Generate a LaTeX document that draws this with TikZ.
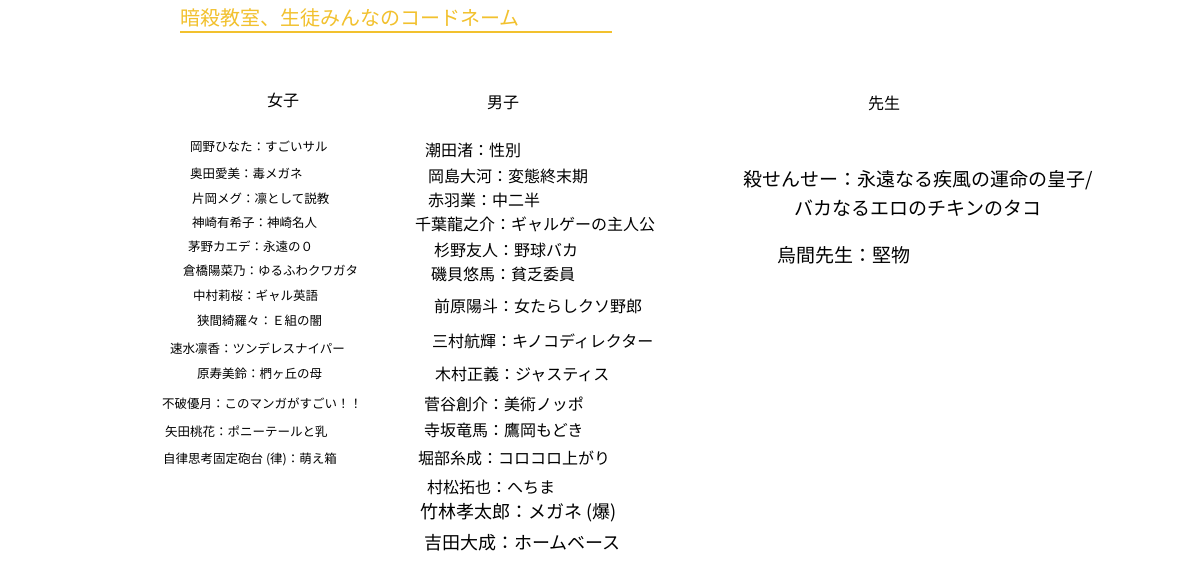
\documentclass[tikz,border=0pt]{standalone}
\usepackage{fontspec}
\newfontfamily\cjk{Noto Sans CJK JP}
\definecolor{titleyel}{HTML}{F2C12E}
\begin{document}
\begin{tikzpicture}[x=1pt,y=-1pt,
  girl/.style={anchor=west,inner sep=0,font=\cjk\fontsize{12.5}{14}\selectfont},
  boy/.style={anchor=west,inner sep=0,font=\cjk\fontsize{16}{18}\selectfont},
  head/.style={inner sep=0,font=\cjk\fontsize{16}{18}\selectfont},
  teach/.style={inner sep=0,font=\cjk\fontsize{19}{22}\selectfont}]
\useasboundingbox[fill=white] (0,0) rectangle (1200,583);
\node[inner sep=0,anchor=west,text=titleyel,font=\cjk\fontsize{20}{22}\selectfont] (title) at (180,18) {暗殺教室、生徒みんなのコードネーム};
\draw[titleyel,line width=1.2] (180,32) -- (612,32);
\node[head] (hg) at (283,100) {女子};
\node[head] (hb) at (503,103) {男子};
\node[head] (ht) at (884,103) {先生};
\node[girl] (g1) at (190,147) {岡野ひなた：すごいサル};
\node[girl] (g2) at (190,174) {奥田愛美：毒メガネ};
\node[girl] (g3) at (192,199) {片岡メグ：凛として説教};
\node[girl] (g4) at (192,223) {神崎有希子：神崎名人};
\node[girl] (g5) at (188,247) {茅野カエデ：永遠の０};
\node[girl] (g6) at (183,271) {倉橋陽菜乃：ゆるふわクワガタ};
\node[girl] (g7) at (193,296) {中村莉桜：ギャル英語};
\node[girl] (g8) at (197,321) {狭間綺羅々：Ｅ組の闇};
\node[girl] (g9) at (170,349) {速水凛香：ツンデレスナイパー};
\node[girl] (g10) at (197,374) {原寿美鈴：椚ヶ丘の母};
\node[girl] (g11) at (162,404) {不破優月：このマンガがすごい！！};
\node[girl] (g12) at (165,432) {矢田桃花：ポニーテールと乳};
\node[girl] (g13) at (163,459) {自律思考固定砲台 (律)：萌え箱};
\node[boy] (b1) at (425,150) {潮田渚：性別};
\node[boy] (b2) at (428,176) {岡島大河：変態終末期};
\node[boy] (b3) at (428,200) {赤羽業：中二半};
\node[boy] (b4) at (415,224) {千葉龍之介：ギャルゲーの主人公};
\node[boy] (b5) at (434,250) {杉野友人：野球バカ};
\node[boy] (b6) at (431,274) {磯貝悠馬：貧乏委員};
\node[boy] (b7) at (434,306) {前原陽斗：女たらしクソ野郎};
\node[boy] (b8) at (432,341) {三村航輝：キノコディレクター};
\node[boy] (b9) at (435,374) {木村正義：ジャスティス};
\node[boy] (b10) at (424,404) {菅谷創介：美術ノッポ};
\node[boy] (b11) at (424,430) {寺坂竜馬：鷹岡もどき};
\node[boy] (b12) at (418,458) {堀部糸成：コロコロ上がり};
\node[boy] (b13) at (427,487) {村松拓也：へちま};
\node[boy,font=\cjk\fontsize{18}{20}\selectfont] (b14) at (420,513) {竹林孝太郎：メガネ (爆)};
\node[boy,font=\cjk\fontsize{18}{20}\selectfont] (b15) at (424,543) {吉田大成：ホームベース};
\node[teach] (t1) at (918,180) {殺せんせー：永遠なる疾風の運命の皇子/};
\node[teach] (t2) at (918,208) {バカなるエロのチキンのタコ};
\node[teach,anchor=west] (t3) at (777,255) {烏間先生：堅物};
\end{tikzpicture}
\end{document}
